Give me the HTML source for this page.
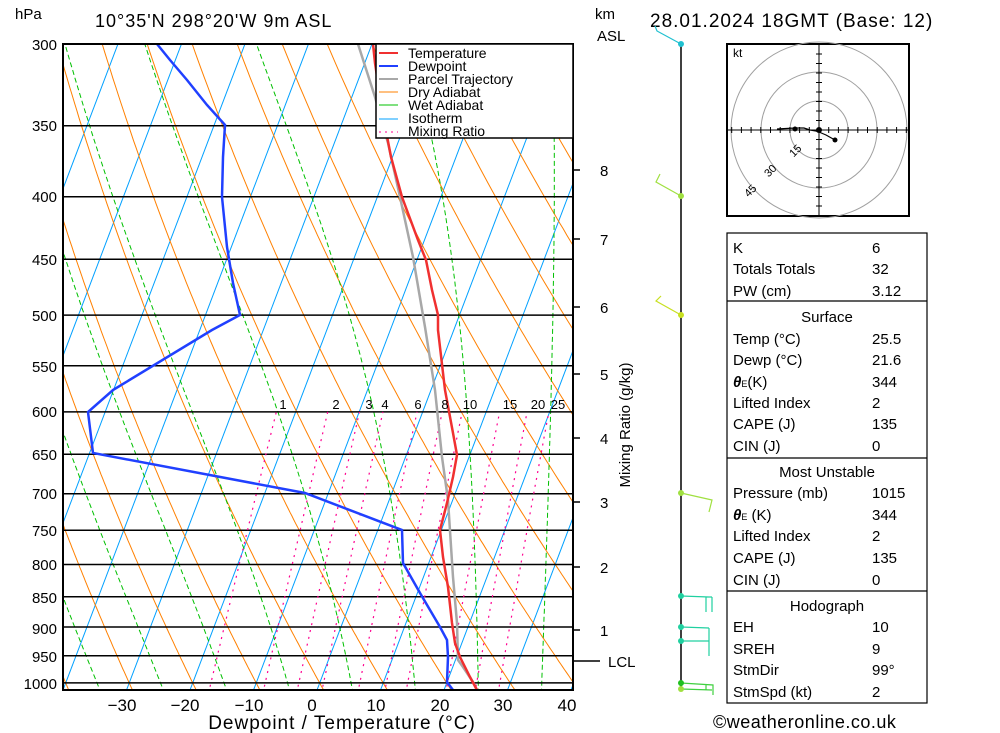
<!DOCTYPE html>
<html><head><meta charset="utf-8"><style>
body{margin:0;background:#fff;width:1000px;height:733px;overflow:hidden;font-family:"Liberation Sans",sans-serif}
svg{position:absolute;left:0;top:0}
text{font-family:"Liberation Sans",sans-serif;fill:#000}
</style></head><body>
<svg id="s" width="1000" height="733" viewBox="0 0 1000 733">
<defs><clipPath id="c"><rect x="63" y="44" width="510" height="646"/></clipPath></defs>
<g id="bg" clip-path="url(#c)"></g>
<g id="fg" clip-path="url(#c)"></g>
<rect x="63" y="44" width="510" height="646" fill="none" stroke="#000" stroke-width="2"/>
<g font-size="15" text-anchor="end">
<text x="57" y="50">300</text><text x="57" y="131">350</text><text x="57" y="202">400</text><text x="57" y="265">450</text><text x="57" y="321">500</text><text x="57" y="372">550</text><text x="57" y="417">600</text><text x="57" y="460">650</text><text x="57" y="499">700</text><text x="57" y="536">750</text><text x="57" y="570">800</text><text x="57" y="603">850</text><text x="57" y="634">900</text><text x="57" y="662">950</text><text x="57" y="689">1000</text>
</g>
<text x="15" y="19" font-size="15">hPa</text>
<text x="95" y="27" font-size="18" letter-spacing="1">10°35'N  298°20'W  9m  ASL</text>
<text x="595" y="19" font-size="15">km</text>
<text x="597" y="41" font-size="15">ASL</text>
<text x="650" y="27" font-size="19" letter-spacing="1">28.01.2024  18GMT  (Base: 12)</text>
<g font-size="17" text-anchor="middle">
<text x="122" y="711">−30</text><text x="185" y="711">−20</text><text x="249" y="711">−10</text><text x="312" y="711">0</text><text x="376" y="711">10</text><text x="440" y="711">20</text><text x="503" y="711">30</text><text x="567" y="711">40</text>
</g>
<text x="342" y="729" font-size="19" text-anchor="middle" letter-spacing="1">Dewpoint / Temperature (°C)</text>
<g font-size="15">
<text x="600" y="176">8</text><text x="600" y="245">7</text><text x="600" y="313">6</text><text x="600" y="380">5</text><text x="600" y="444">4</text><text x="600" y="508">3</text><text x="600" y="573">2</text><text x="600" y="636">1</text><text x="608" y="667">LCL</text>
</g>
<g stroke="#000" stroke-width="1.5"><line x1="573" y1="170" x2="580" y2="170"/><line x1="573" y1="239" x2="580" y2="239"/><line x1="573" y1="307" x2="580" y2="307"/><line x1="573" y1="374" x2="580" y2="374"/><line x1="573" y1="438" x2="580" y2="438"/><line x1="573" y1="502" x2="580" y2="502"/><line x1="573" y1="567" x2="580" y2="567"/><line x1="573" y1="630" x2="580" y2="630"/><line x1="573" y1="661" x2="600" y2="661"/></g>
<text transform="translate(630,425) rotate(-90)" font-size="15" text-anchor="middle">Mixing Ratio (g/kg)</text>
<g font-size="13" text-anchor="middle">
<text x="283" y="409" fill="#ff0090">1</text><text x="336" y="409" fill="#ff0090">2</text><text x="369" y="409" fill="#ff0090">3</text><text x="385" y="409" fill="#ff0090">4</text><text x="418" y="409" fill="#ff0090">6</text><text x="445" y="409" fill="#ff0090">8</text><text x="470" y="409" fill="#ff0090">10</text><text x="510" y="409" fill="#ff0090">15</text><text x="538" y="409" fill="#ff0090">20</text><text x="558" y="409" fill="#ff0090">25</text>
</g>
<!-- legend -->
<rect x="376" y="44" width="197" height="94" fill="#fff" stroke="#000" stroke-width="1.5"/>
<g stroke-width="2"><line x1="379" y1="53" x2="398" y2="53" stroke="#f03030"/><line x1="379" y1="66" x2="398" y2="66" stroke="#2040ff"/><line x1="379" y1="79" x2="398" y2="79" stroke="#a8a8a8"/></g>
<g stroke-width="1"><line x1="379" y1="92" x2="398" y2="92" stroke="#ff8000"/><line x1="379" y1="105" x2="398" y2="105" stroke="#00c000"/><line x1="379" y1="119" x2="398" y2="119" stroke="#00a0ff"/><line x1="379" y1="132" x2="398" y2="132" stroke="#ff0090" stroke-dasharray="2,4"/></g>
<g font-size="14"><text x="408" y="58">Temperature</text><text x="408" y="71">Dewpoint</text><text x="408" y="84">Parcel Trajectory</text><text x="408" y="97">Dry Adiabat</text><text x="408" y="110">Wet Adiabat</text><text x="408" y="123">Isotherm</text><text x="408" y="136">Mixing Ratio</text></g>
<!-- wind column -->
<line x1="681" y1="44" x2="681" y2="689" stroke="#000" stroke-width="1.5"/>
<g stroke-width="1.2" fill="none">
<path d="M681,44 L657,31 L655,26" stroke="#20c0d0"/>
<path d="M681,196 L656,182 L660,174" stroke="#a0e040"/>
<path d="M681,315 L656,301 L661,296" stroke="#c8e020"/>
<path d="M681,493 L712,500 L709,512" stroke="#a0e040"/>
<path d="M681,596 L709,597 L712,597 M706,597 L706,612 M712,597 L712,612" stroke="#20d0a0"/>
<path d="M681,627 L709,628 M709,628 L709,656 M681,641 L709,641" stroke="#20d0a0"/>
<path d="M681,683 L713,685 L713,695 M706,685 L706,690 M681,689 L712,690" stroke="#40d040"/>
</g>
<g><circle cx="681" cy="44" r="3" fill="#20c0d0"/><circle cx="681" cy="196" r="3" fill="#a0e040"/><circle cx="681" cy="315" r="3" fill="#c8e020"/><circle cx="681" cy="493" r="3" fill="#a0e040"/><circle cx="681" cy="596" r="3" fill="#20d0a0"/><circle cx="681" cy="627" r="3" fill="#20d0a0"/><circle cx="681" cy="641" r="3" fill="#20d0a0"/><circle cx="681" cy="683" r="3" fill="#20c020"/><circle cx="681" cy="689" r="3" fill="#a0e040"/></g>
<!-- hodograph -->
<rect x="727" y="44" width="182" height="172" fill="none" stroke="#000" stroke-width="2"/>
<g fill="none" stroke="#a0a0a0" stroke-width="1"><circle cx="819" cy="130" r="29"/><circle cx="819" cy="130" r="58"/><circle cx="819" cy="130" r="88"/></g>
<g id="hax" stroke="#000" stroke-width="1"><line x1="728" y1="130" x2="908" y2="130"/><line x1="819" y1="45" x2="819" y2="215"/></g>
<g font-size="11"><text x="790" y="155" fill="#999" transform="rotate(-45 795 152)">15</text><text x="765" y="175" fill="#999" transform="rotate(-45 770 172)">30</text><text x="745" y="195" fill="#999" transform="rotate(-45 750 192)">45</text></g>
<text x="733" y="57" font-size="12">kt</text>
<path d="M777,129 L795,128 L804,128 L810,130 L816,131 L819,132 L826,135 L835,140" stroke="#000" stroke-width="1.2" fill="none"/>
<circle cx="795" cy="129" r="2.5"/><circle cx="819" cy="130" r="3"/><circle cx="835" cy="140" r="2.5"/>
<!-- table -->
<g fill="none" stroke="#000" stroke-width="1.2"><rect x="727" y="233" width="200" height="470"/><line x1="727" y1="301" x2="927" y2="301"/><line x1="727" y1="458" x2="927" y2="458"/><line x1="727" y1="591" x2="927" y2="591"/></g>
<g font-size="15">
<text x="733" y="253">K</text><text x="872" y="253">6</text>
<text x="733" y="274">Totals Totals</text><text x="872" y="274">32</text>
<text x="733" y="296">PW (cm)</text><text x="872" y="296">3.12</text>
<text x="827" y="322" text-anchor="middle">Surface</text>
<text x="733" y="344">Temp (°C)</text><text x="872" y="344">25.5</text>
<text x="733" y="365">Dewp (°C)</text><text x="872" y="365">21.6</text>
<text x="733" y="387"><tspan font-style="italic" font-weight="bold">θ</tspan><tspan font-size="9">E</tspan>(K)</text><text x="872" y="387">344</text>
<text x="733" y="408">Lifted Index</text><text x="872" y="408">2</text>
<text x="733" y="429">CAPE (J)</text><text x="872" y="429">135</text>
<text x="733" y="451">CIN (J)</text><text x="872" y="451">0</text>
<text x="827" y="477" text-anchor="middle">Most Unstable</text>
<text x="733" y="498">Pressure (mb)</text><text x="872" y="498">1015</text>
<text x="733" y="520"><tspan font-style="italic" font-weight="bold">θ</tspan><tspan font-size="9">E</tspan> (K)</text><text x="872" y="520">344</text>
<text x="733" y="541">Lifted Index</text><text x="872" y="541">2</text>
<text x="733" y="563">CAPE (J)</text><text x="872" y="563">135</text>
<text x="733" y="585">CIN (J)</text><text x="872" y="585">0</text>
<text x="827" y="611" text-anchor="middle">Hodograph</text>
<text x="733" y="632">EH</text><text x="872" y="632">10</text>
<text x="733" y="654">SREH</text><text x="872" y="654">9</text>
<text x="733" y="675">StmDir</text><text x="872" y="675">99°</text>
<text x="733" y="697">StmSpd (kt)</text><text x="872" y="697">2</text>
</g>
<text x="713" y="728" font-size="18" letter-spacing="0.5">©weatheronline.co.uk</text>
</svg>
<script>
var NS="http://www.w3.org/2000/svg",bg=document.getElementById('bg'),fg=document.getElementById('fg');
function Y(p){return 44+530.7*Math.log(p/300);}
function X(T,p){return 317+6.35*T+0.38*(690-Y(p));}
function pl(g,pts,st,w,da){var e=document.createElementNS(NS,'polyline');e.setAttribute('points',pts.map(function(a){return a[0].toFixed(1)+','+a[1].toFixed(1)}).join(' '));e.setAttribute('fill','none');e.setAttribute('stroke',st);e.setAttribute('stroke-width',w);if(da)e.setAttribute('stroke-dasharray',da);g.appendChild(e);}
var ps=[];for(var p=1020;p>=290;p-=5)ps.push(p);
for(var T=-120;T<=50;T+=10)pl(bg,[[X(T,1020),Y(1020)],[X(T,290),Y(290)]],'#00a0ff',1);
for(var th=-40;th<=220;th+=10){var a=[];ps.forEach(function(p){var t=(th+273.15)*Math.pow(p/1000,0.286)-273.15;a.push([X(t,p),Y(p)]);});pl(bg,a,'#ff8000',1);}
function es(T){return 6.112*Math.exp(17.67*T/(T+243.5));}
function mr(T,p){var e=es(T);return 0.622*e/(p-e);}
function gam(T,p){var Tk=T+273.15,r=mr(T,p),L=2.5e6,Rd=287,cp=1004,eps=0.622;
 var g=(Rd*Tk+L*r)/(cp+L*L*r*eps/(Rd*Tk*Tk));return g/p;}
for(var t0=-45;t0<=45;t0+=10){var a=[];
 var tt=t0;for(var q=1000;q<1020;q+=1){tt+=gam(tt,q);} a.push([X(tt,1020),Y(1020)]);
 var t=tt;for(var p=1020;p>=290;p-=1){t-=gam(t,p);if(p%5==0)a.push([X(t,p),Y(p)]);}
 pl(bg,a,'#00c000',1,'5,3');}
[300,350,400,450,500,550,600,650,700,750,800,850,900,950,1000].forEach(function(p){pl(bg,[[63,Y(p)],[573,Y(p)]],'#000',1.5);});
[1,2,3,4,6,8,10,15,20,25].forEach(function(w){var a=[];for(var p=1020;p>=600;p-=10){var lo=-60,hi=50;for(var i=0;i<40;i++){var m=(lo+hi)/2;if(mr(m,p)*1000<w)lo=m;else hi=m;}a.push([X(lo,p),Y(p)]);}pl(bg,a,'#ff0090',1.2,'2,5');});
pl(fg,[[358,44],[375,97],[388,143],[400,197],[413,257],[425,327],[435,390],[442,457],[448,500],[453,577],[457,623],[458,660],[463,667],[473,682],[477,690]],'#a8a8a8',2.5);
pl(fg,[[373,44],[375,63],[382,110],[391,157],[402,197],[418,240],[426,260],[432,290],[438,315],[438,330],[445,390],[453,433],[457,455],[453,477],[447,503],[440,530],[443,557],[448,587],[452,623],[455,643],[460,657],[470,677],[477,690]],'#f03030',2.5);
pl(fg,[[157,44],[170,60],[187,80],[207,105],[225,125],[223,157],[222,197],[227,247],[233,283],[240,315],[212,330],[113,390],[88,412],[93,453],[305,493],[402,530],[403,563],[420,593],[440,627],[447,640],[448,657],[447,682],[453,690]],'#2040ff',2.5);
var h=document.getElementById('hax');for(var i=-9;i<=9;i++){if(!i)continue;var l=document.createElementNS(NS,'line');l.setAttribute('x1',819+i*9.7);l.setAttribute('x2',819+i*9.7);l.setAttribute('y1',127);l.setAttribute('y2',133);h.appendChild(l);var m=document.createElementNS(NS,'line');m.setAttribute('y1',130+i*9.5);m.setAttribute('y2',130+i*9.5);m.setAttribute('x1',816);m.setAttribute('x2',822);h.appendChild(m);}
</script>
</body></html>
